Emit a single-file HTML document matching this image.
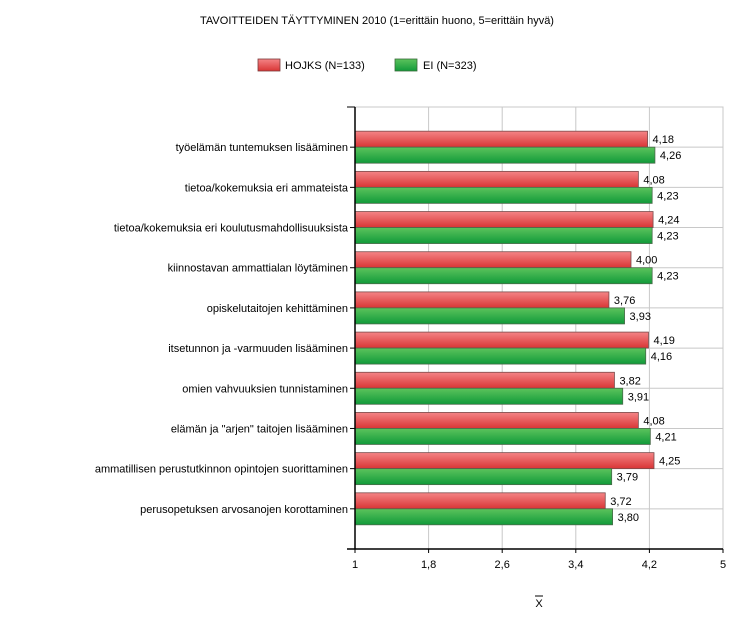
<!DOCTYPE html>
<html><head><meta charset="utf-8"><style>
body{margin:0;background:#fff;font-family:"Liberation Sans","DejaVu Sans",sans-serif;}
svg text{font-family:"Liberation Sans","DejaVu Sans",sans-serif;font-size:11px;fill:#000;}
</style></head><body>
<svg id="chart" width="755" height="637" viewBox="0 0 755 637" xmlns="http://www.w3.org/2000/svg">
<defs>
<linearGradient id="gr" x1="0" y1="0" x2="0" y2="1"><stop offset="0" stop-color="#f48486"/><stop offset="1" stop-color="#d93535"/></linearGradient>
<linearGradient id="gg" x1="0" y1="0" x2="0" y2="1"><stop offset="0" stop-color="#5cc35c"/><stop offset="1" stop-color="#119a3a"/></linearGradient>
</defs>
<text x="377" y="24" text-anchor="middle">TAVOITTEIDEN TÄYTTYMINEN 2010 (1=erittäin huono, 5=erittäin hyvä)</text>
<g>
<rect x="258" y="59" width="22" height="12" fill="url(#gr)" stroke="#7a3a3a" stroke-width="0.8"/>
<text x="285" y="69">HOJKS (N=133)</text>
<rect x="395" y="59" width="22" height="12" fill="url(#gg)" stroke="#3a6a3a" stroke-width="0.8"/>
<text x="423" y="69">EI (N=323)</text>
</g>
<g id="grid"></g><g id="bars"></g><g id="axes"></g>
<text x="539" y="607" text-anchor="middle">X</text>
<line x1="535" y1="596" x2="543" y2="596" stroke="#000" stroke-width="1"/>
</svg>
<script>
const categories=["työelämän tuntemuksen lisääminen","tietoa/kokemuksia eri ammateista","tietoa/kokemuksia eri koulutusmahdollisuuksista","kiinnostavan ammattialan löytäminen","opiskelutaitojen kehittäminen","itsetunnon ja -varmuuden lisääminen","omien vahvuuksien tunnistaminen","elämän ja \"arjen\" taitojen lisääminen","ammatillisen perustutkinnon opintojen suorittaminen","perusopetuksen arvosanojen korottaminen"];
const hojksValues=[4.18,4.08,4.24,4.00,3.76,4.19,3.82,4.08,4.25,3.72];
const eiValues=[4.26,4.23,4.23,4.23,3.93,4.16,3.91,4.21,3.79,3.80];
const tickValues=[1,1.8,2.6,3.4,4.2,5];
const tickLabels=["1","1,8","2,6","3,4","4,2","5"];
const NS="http://www.w3.org/2000/svg";
const L=355,R=723,T=107,B=549,xmin=1,xmax=5;
const x=v=>L+(v-xmin)/(xmax-xmin)*(R-L);
const step=(B-T)/(categories.length+1);
const y=i=>T+(i+1)*step;
function mk(tag,attrs,parent){const e=document.createElementNS(NS,tag);for(const k in attrs)e.setAttribute(k,attrs[k]);parent.appendChild(e);return e;}
const grid=document.getElementById('grid'),bars=document.getElementById('bars'),axes=document.getElementById('axes');
mk('rect',{x:L,y:T,width:R-L,height:B-T,fill:'none',stroke:'#c8c8c8'},grid);
tickValues.forEach((v,i)=>{
 const g=mk('line',{x1:x(v),x2:x(v),y1:T,y2:B,stroke:'#c8c8c8'},grid);
 
 
 const t=mk('line',{x1:x(v),x2:x(v),y1:B,y2:B+4,stroke:'#000'},axes);
 
 
 const lb=mk('text',{x:x(v),y:B+19,'text-anchor':'middle'},axes);lb.textContent=tickLabels[i];
 
 
});
const fmt=v=>v.toFixed(2).replace('.',',');
categories.forEach((c,i)=>{
 const cy=y(i);
 const gl=mk('line',{x1:L,x2:R,y1:cy,y2:cy,stroke:'#c8c8c8'},grid);
 
 
 const r=mk('rect',{x:L,y:cy-16,width:x(hojksValues[i])-L,height:16,fill:'url(#gr)',stroke:'#7a4a4a','stroke-width':0.8},bars);
 
 
 const g=mk('rect',{x:L,y:cy,width:x(eiValues[i])-L,height:16,fill:'url(#gg)',stroke:'#4a6a4a','stroke-width':0.8},bars);
 
 
 const t1=mk('text',{x:x(hojksValues[i])+5,y:cy-4},bars);t1.textContent=fmt(hojksValues[i]);
 
 
 const t2=mk('text',{x:x(eiValues[i])+5,y:cy+12},bars);t2.textContent=fmt(eiValues[i]);
 
 
 const tk=mk('line',{x1:L-5,x2:L,y1:cy,y2:cy,stroke:'#000'},axes);
 
 
 const cl=mk('text',{x:L-7,y:cy+4,'text-anchor':'end'},axes);cl.textContent=c;
 
 
});
const ya=mk('line',{x1:L,x2:L,y1:T,y2:B,stroke:'#000','stroke-width':1.5},axes);


mk('line',{x1:L-8,x2:L,y1:T,y2:T,stroke:'#000'},axes);
const xa=mk('line',{x1:L-8,x2:R,y1:B,y2:B,stroke:'#000','stroke-width':1.5},axes);


</script>
</body></html>
